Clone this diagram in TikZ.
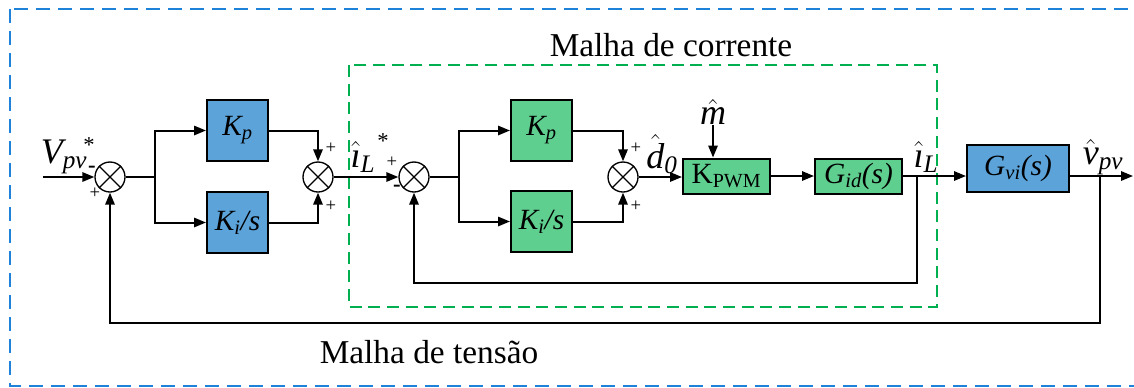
\documentclass[tikz,border=0pt]{standalone}
\usepackage{amsmath}
\usepackage{fontspec}
\setmainfont{Liberation Serif}
\usetikzlibrary{arrows.meta}
\definecolor{bfill}{HTML}{5BA3D9}
\definecolor{gfill}{HTML}{5FCF8F}
\definecolor{bdash}{HTML}{1E82D8}
\definecolor{gdash}{HTML}{00B050}
\newcommand\ti[1]{\textit{#1}}
\begin{document}
\begin{tikzpicture}[x=0.75pt,y=-0.75pt,
  >={Triangle[length=9pt,width=7pt]},
  line/.style={line width=1.5pt},
  blk/.style={draw, line width=1.5pt, inner sep=0pt, font=\fontsize{22}{25}\selectfont},
  sqb/.style={blk, fill=bfill, minimum width=45.75pt, minimum height=45.75pt},
  sqg/.style={blk, fill=gfill, minimum width=45.75pt, minimum height=45.75pt},
  sumj/.style={draw, circle, line width=1pt, minimum size=22.5pt, inner sep=0pt, fill=white},
  lbl/.style={font=\fontsize{27}{30}\selectfont, inner sep=0pt},
  ttl/.style={font=\fontsize{25}{29}\selectfont, inner sep=0pt},
  sgn/.style={font=\fontsize{14}{16}\selectfont, inner sep=0pt},
  star/.style={font=\fontsize{17}{19}\selectfont, inner sep=0pt},
  bdashed/.style={draw=bdash, line width=1.5pt, dash pattern=on 10.5pt off 6pt},
  gdashed/.style={draw=gdash, line width=1.5pt, dash pattern=on 9pt off 5pt}]
\useasboundingbox (0,0) rectangle (1134,387);
\begin{scope}
\clip (0,0) rectangle (1134,387);
\draw[bdashed] (10,9) rectangle (1160,386);
\end{scope}
\draw[gdashed] (349,65) rectangle (937,307);
\node[ttl] (tc) at (671,45) {Malha de corrente};
\node[ttl] (tt) at (429,352) {Malha de tensão};

% blocks
\coordinate (in) at (43,177);
\node[sumj] (s1) at (110,177) {};
\coordinate (br1) at (155,177);
\node[sqb] (kp1) at (237.5,130.5) {$\ti{K}_{\ti{p}}$};
\node[sqb] (ki1) at (237.5,222.5) {$\ti{K}_{\ti{i}}\ti{/s}$};
\node[sumj] (s2) at (318,177) {};
\node[sumj] (s3) at (414,177) {};
\coordinate (br2) at (459,177);
\node[sqg] (kp2) at (541.5,130.5) {$\ti{K}_{\ti{p}}$};
\node[sqg] (ki2) at (541.5,221.5) {$\ti{K}_{\ti{i}}\ti{/s}$};
\node[sumj] (s4) at (623,177) {};
\node[blk, fill=gfill, minimum width=65.25pt, minimum height=26.25pt] (kpwm) at (726.5,176) {K\textsubscript{\fontsize{15}{17}\selectfont PWM}};
\node[blk, fill=gfill, minimum width=65.25pt, minimum height=26.25pt] (gid) at (858.5,176) {$\ti{G}_{\ti{id}}\ti{(s)}$};
\coordinate (tap1) at (917,176);
\node[blk, fill=bfill, minimum width=76.5pt, minimum height=35.25pt] (gvi) at (1018,168.5) {$\ti{G}_{\ti{vi}}\ti{(s)}$};
\coordinate (tap2) at (1100,176);
\coordinate (out) at (1133,176);
\coordinate (fb1) at (917,283);
\coordinate (fb2) at (1100,323);

% cross in sums
\foreach \s in {s1,s2,s3,s4}{
  \draw[line width=1pt] (\s.north west) -- (\s.south east);
  \draw[line width=1pt] (\s.north east) -- (\s.south west);
}

% connectors
\draw[line,->] (in) -- (s1.west);
\draw[line] (s1.east) -- (br1);
\draw[line,->] (br1) |- (kp1.west);
\draw[line,->] (br1) |- (ki1.west);
\draw[line,->] (kp1.east) -| (s2.north);
\draw[line,->] (ki1.east) -| (s2.south);
\draw[line,->] (s2.east) -- (s3.west);
\draw[line] (s3.east) -- (br2);
\draw[line,->] (br2) |- (kp2.west);
\draw[line,->] (br2) |- (ki2.west);
\draw[line,->] (kp2.east) -| (s4.north);
\draw[line,->] (ki2.east) -| (s4.south);
\draw[line,->] (s4.east) -- (s4.east -| kpwm.west);
\draw[line,->] (kpwm.east) -- (gid.west);
\draw[line,->] (gid.east) -- (gid.east -| gvi.west);
\draw[line,->] (gvi.east |- tap2) -- (out);
\draw[line,->] (tap1) -- (fb1) -| (s3.south);
\draw[line,->] (tap2) -- (fb2) -| (s1.south);

% m input
\node[lbl] (m) at (713,112) {$\hat{\ti{m}}$};
\draw[line,->] (m.south) -- (m.south |- kpwm.north);

% labels
\node[lbl] (vpv) at (64,157) {$\ti{V}_{\ti{pv}}$};
\node[star] (st1) at (89,145) {*};
\node[sgn, font=\fontsize{17}{19}\selectfont\bfseries] (m1) at (92,169) {-};
\node[sgn] (p1) at (95,193) {+};
\node[sgn] (p2) at (331,148) {+};
\node[sgn] (p3) at (331,206) {+};
\node[lbl] (il1) at (363,157) {$\hat{\ti{\i}}_{\ti{L}}$};
\node[star] (st2) at (383,141) {*};
\node[sgn] (p4) at (392,162) {+};
\node[sgn, font=\fontsize{17}{19}\selectfont\bfseries] (m2) at (397,188) {-};
\node[sgn] (p5) at (636,148) {+};
\node[sgn] (p6) at (636,206) {+};
\node[lbl] (d0) at (662,154) {$\hat{\ti{d}}_{\ti{0}}$};
\node[lbl] (il2) at (926,157) {$\hat{\ti{\i}}_{\ti{L}}$};
\node[lbl] (vo) at (1103,157) {$\hat{\ti{v}}_{\ti{pv}}$};
\end{tikzpicture}
\end{document}
